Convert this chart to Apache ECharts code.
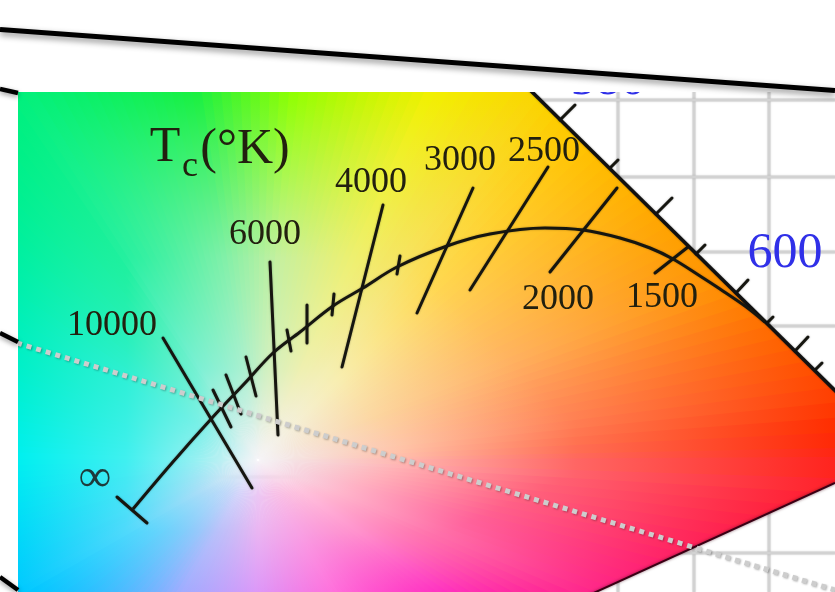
<!DOCTYPE html>
<html>
<head>
<meta charset="utf-8">
<title>Planckian locus</title>
<script src="https://cdn.jsdelivr.net/npm/echarts@6.0.0/dist/echarts.min.js"></script>
<style>
  html, body { margin: 0; padding: 0; background: #ffffff; }
  #chart { width: 835px; height: 592px; }
</style>
</head>
<body>
<div id="chart"></div>
<script>
// ---- panel data (chart units, origin at top-left) ----
const gamutOutline = [[18, 92], [532, 92], [835, 390.5], [835, 483], [596, 592], [18, 592]];
const whitePoint = [258, 460];

// colour of the gamut fill by direction around the white point:
// angle (deg), colour at 25 % of the way out, at 55 %, and at the boundary
const hueAngles = [3, 21, 45, 65, 85, 100, 125, 150, 180, 210, 240, 270, 300, 325, 345, 357];
const hueNear = ['#ffc0a8', '#fcd6a0', '#f8eeb0', '#eef0b0', '#d0f0c0', '#a8f0d0', '#78f0d4', '#78f0e8',
                 '#98f0f2', '#a8dcf8', '#d4d4fa', '#ecc8f4', '#f8c0e6', '#ffc0dc', '#ffb0c4', '#ffb0b4'];
const hueMid = ['#ff7050', '#ffb060', '#ffd850', '#eef070', '#c4f0a0', '#80f0a8', '#20f0a0', '#30f0d8',
                '#40f0f0', '#50d8fc', '#b8c0fa', '#eab4f2', '#f8a0e4', '#ff90cc', '#ff6098', '#ff6070'];
const hueEdge = ['#ff2a00', '#ff9000', '#ffc400', '#f2f000', '#90ff00', '#18f040', '#00f080', '#00f0b8',
                 '#00f0f0', '#00c8ff', '#a0acff', '#dc98f8', '#ff70dc', '#ff30c0', '#ff2070', '#ff2030'];
const whiteColour = '#f2f0f4';

// Planckian locus, from the infinite-temperature end towards low temperatures
const planckLocus = [[133, 509], [172, 463], [212, 418], [245, 383], [273, 353], [300, 332], [333, 306],
                     [363, 288], [397, 267], [447, 246], [490, 234], [545, 228], [583, 230], [620, 238],
                     [650, 248], [673, 259], [700, 276], [720, 289], [745, 306], [765, 322]];
const infinityCap = [[117, 497, 147, 523]];

// isotemperature lines and their labels
const isothermTemps = ['10000', '6000', '4000', '3000', '2500', '2000', '1500'];
const isothermLines = [[163, 338, 252, 488], [270, 262, 278, 435], [383, 205, 342, 367], [473, 188, 417, 313],
                       [548, 167, 470, 290], [617, 188, 550, 272], [688, 247, 655, 273]];
const isothermLabelAt = [[112, 326], [265, 235], [371, 183], [460, 161], [544, 152], [558, 300], [662, 298]];

// short intermediate marks on the locus
const locusTicks = [[213, 390, 231, 427], [226, 375, 241, 414], [246, 357, 256, 396], [287, 330, 291, 351],
                    [307, 305, 307, 343], [334, 294, 332, 315], [400, 256, 397, 274]];

// spectral boundary with its wavelength marks
const spectralEdge = [[525, 85], [840, 395.4]];
const purpleEdge = [[835, 483], [590, 594.7]];
const spectralTicks = [[560, 120, 575, 105], [610, 168, 618, 160], [656, 214, 672, 198], [696, 254, 705, 245],
                       [736, 293, 748, 280], [767, 323, 773, 317], [795, 351, 808, 337], [815, 370, 822, 363]];
const wavelengthLabels = ['580', '600'];
const wavelengthLabelAt = [[608, 81], [785, 254]];

// background graph paper and overlay lines
const paperXs = [618, 694, 769];
const paperYs = [100, 177, 252, 326, 402, 477, 553];
const dottedGuide = [[17, 343], [835, 590]];
const frameTop = [[0, 29.5], [835, 90.5]];
const frameLeft = [[0, 89, 18, 93], [0, 333, 18, 342], [0, 577, 18, 590]];

// ---- helpers ----
function hexRgb(h) { const n = parseInt(h.slice(1), 16); return [(n >> 16) & 255, (n >> 8) & 255, n & 255]; }
function mix(a, b, t) {
  const A = hexRgb(a), B = hexRgb(b);
  return 'rgb(' + A.map((v, i) => Math.round(v + (B[i] - v) * t)).join(',') + ')';
}
function hueAt(angle) {
  const n = hueAngles.length;
  let a = angle;
  if (a < hueAngles[0]) a += 360;
  for (let i = 0; i < n; i++) {
    const a0 = hueAngles[i], a1 = i + 1 < n ? hueAngles[i + 1] : hueAngles[0] + 360;
    if (a >= a0 && a < a1) {
      const t = (a - a0) / (a1 - a0), j = (i + 1) % n;
      return { near: mix(hueNear[i], hueNear[j], t), mid: mix(hueMid[i], hueMid[j], t), edge: mix(hueEdge[i], hueEdge[j], t) };
    }
  }
  return { near: hueNear[0], mid: hueMid[0], edge: hueEdge[0] };
}
function rayHit(W, poly, deg) {
  const r = deg * Math.PI / 180, dx = Math.cos(r), dy = -Math.sin(r);
  let best = Infinity;
  for (let i = 0; i < poly.length; i++) {
    const P = poly[i], Q = poly[(i + 1) % poly.length];
    const ex = Q[0] - P[0], ey = Q[1] - P[1];
    const denom = -dx * ey + dy * ex;
    if (Math.abs(denom) < 1e-9) continue;
    const rx = P[0] - W[0], ry = P[1] - W[1];
    const t = (-rx * ey + ry * ex) / denom;
    const s = (dx * ry - dy * rx) / denom;
    if (t > 0 && s >= -1e-6 && s <= 1 + 1e-6 && t < best) best = t;
  }
  return { x: W[0] + dx * best, y: W[1] + dy * best, d: best };
}
function angleOf(W, p) {
  let a = Math.atan2(-(p[1] - W[1]), p[0] - W[0]) * 180 / Math.PI;
  return (a + 360) % 360;
}

// gamut fill: a fan of thin wedges around the white point, each shaded outwards
function renderGamut(params, api) {
  const poly = gamutOutline.map(p => api.coord(p));
  const W = api.coord(whitePoint);
  const children = [];
  const step = 1.5;
  for (let a = 0; a < 360; a += step) {
    const a0 = a - 0.3, a1 = a + step + 0.3;
    const h0 = rayHit(W, poly, a0), h1 = rayHit(W, poly, a1);
    const inner = poly
      .map(v => ({ v, rel: (angleOf(W, v) - a0 + 720) % 360 }))
      .filter(o => o.rel > 0 && o.rel < a1 - a0)
      .sort((p, q) => p.rel - q.rel)
      .map(o => o.v);
    const pts = [W, [h0.x, h0.y]].concat(inner, [[h1.x, h1.y]]);
    const midA = a + step / 2;
    const R = rayHit(W, poly, midA).d;
    const c = hueAt(midA);
    children.push({
      type: 'polygon',
      shape: { points: pts },
      silent: true,
      style: {
        fill: new echarts.graphic.RadialGradient(W[0], W[1], R, [
          { offset: 0, color: whiteColour },
          { offset: 0.25, color: c.near },
          { offset: 0.55, color: c.mid },
          { offset: 1, color: c.edge }
        ], true)
      }
    });
  }
  return { type: 'group', children };
}

function segmentSeries(data, style, z) {
  return {
    type: 'custom', coordinateSystem: 'cartesian2d', z, silent: true,
    encode: { x: [0, 2], y: [1, 3] },
    data,
    renderItem(params, api) {
      const p1 = api.coord([api.value(0), api.value(1)]);
      const p2 = api.coord([api.value(2), api.value(3)]);
      return { type: 'line', shape: { x1: p1[0], y1: p1[1], x2: p2[0], y2: p2[1] }, style: Object.assign({}, style) };
    }
  };
}

function textSeries(data, texts, font, colour, z) {
  return {
    type: 'custom', coordinateSystem: 'cartesian2d', z, silent: true,
    data,
    renderItem(params, api) {
      const p = api.coord([api.value(0), api.value(1)]);
      return {
        type: 'text', x: p[0], y: p[1],
        style: { text: texts[params.dataIndex], font, fill: colour, align: 'center', verticalAlign: 'middle',
                 shadowBlur: 1, shadowColor: colour }
      };
    }
  };
}

const inkStyle = { stroke: '#161610', lineWidth: 3, lineCap: 'round', shadowBlur: 2, shadowColor: 'rgba(0,0,0,0.35)' };
const serif = '"Liberation Serif", "Times New Roman", serif';
const labelInk = '#22200f';

const paperLines = paperXs.map(x => [x, 92, x, 592]).concat(paperYs.map(y => [18, y, 835, y]));

const chart = echarts.init(document.getElementById('chart'), null, { renderer: 'canvas' });
chart.setOption({
  animation: false,
  backgroundColor: '#ffffff',
  grid: { left: 0, right: 0, top: 0, bottom: 0 },
  xAxis: { type: 'value', min: 0, max: 835, show: false },
  yAxis: { type: 'value', min: 0, max: 592, inverse: true, show: false },
  series: [
    segmentSeries(paperLines, { stroke: '#d2d2d2', lineWidth: 3, shadowBlur: 2, shadowColor: 'rgba(0,0,0,0.15)' }, 1),
    { type: 'custom', coordinateSystem: 'cartesian2d', z: 2, silent: true, data: [whitePoint], renderItem: renderGamut },
    {
      type: 'line', z: 3, silent: true, data: spectralEdge, symbol: 'none',
      lineStyle: { color: '#111', width: 3.5, shadowBlur: 2, shadowColor: 'rgba(0,0,0,0.4)' }
    },
    {
      type: 'line', z: 3, silent: true, data: purpleEdge, symbol: 'none',
      lineStyle: { color: '#3a0014', width: 2, shadowBlur: 3, shadowColor: 'rgba(60,0,20,0.6)' }
    },
    segmentSeries(spectralTicks, inkStyle, 3),
    {
      type: 'line', z: 3, silent: true, data: planckLocus, symbol: 'none', smooth: 0.35,
      lineStyle: { color: '#161610', width: 3, shadowBlur: 2, shadowColor: 'rgba(0,0,0,0.35)' }
    },
    segmentSeries(isothermLines, inkStyle, 3),
    segmentSeries(locusTicks, inkStyle, 3),
    segmentSeries(infinityCap, inkStyle, 3),
    textSeries(isothermLabelAt, isothermTemps, '36px ' + serif, labelInk, 4),
    textSeries([[165, 148]], ['T'], '50px ' + serif, labelInk, 4),
    textSeries([[190, 167]], ['c'], '36px ' + serif, labelInk, 4),
    textSeries([[245, 150]], ['(°K)'], '50px ' + serif, labelInk, 4),
    textSeries([[95, 479]], ['∞'], '46px ' + serif, '#1e3a3a', 4),
    textSeries(wavelengthLabelAt, wavelengthLabels, '50px ' + serif, '#3030e8', 4),
    {
      type: 'line', z: 5, silent: true, data: dottedGuide, symbol: 'none',
      lineStyle: { color: '#cdcdcd', width: 5, type: [5, 5], cap: 'butt',
                   shadowBlur: 2, shadowOffsetX: 1, shadowOffsetY: 1, shadowColor: 'rgba(0,0,0,0.3)' }
    },
    {
      // white margin around the panel
      type: 'custom', coordinateSystem: 'cartesian2d', z: 6, silent: true, data: [[0, 0]],
      renderItem(params, api) {
        const tl = api.coord([0, 0]);
        const edge = api.coord(gamutOutline[0]);
        const br = api.coord([835, 592]);
        return {
          type: 'group', children: [
            { type: 'rect', shape: { x: tl[0], y: tl[1], width: br[0] - tl[0], height: edge[1] - tl[1] }, style: { fill: '#ffffff' } },
            { type: 'rect', shape: { x: tl[0], y: edge[1], width: edge[0] - tl[0], height: br[1] - edge[1] }, style: { fill: '#ffffff' } }
          ]
        };
      }
    },
    {
      type: 'line', z: 7, silent: true, data: frameTop, symbol: 'none',
      lineStyle: { color: '#000', width: 5, shadowBlur: 6, shadowOffsetY: 3, shadowColor: 'rgba(0,0,0,0.45)' }
    },
    segmentSeries(frameLeft, { stroke: '#000', lineWidth: 4.5, shadowBlur: 5, shadowOffsetY: 2, shadowColor: 'rgba(0,0,0,0.4)' }, 7)
  ]
});
</script>
</body>
</html>
